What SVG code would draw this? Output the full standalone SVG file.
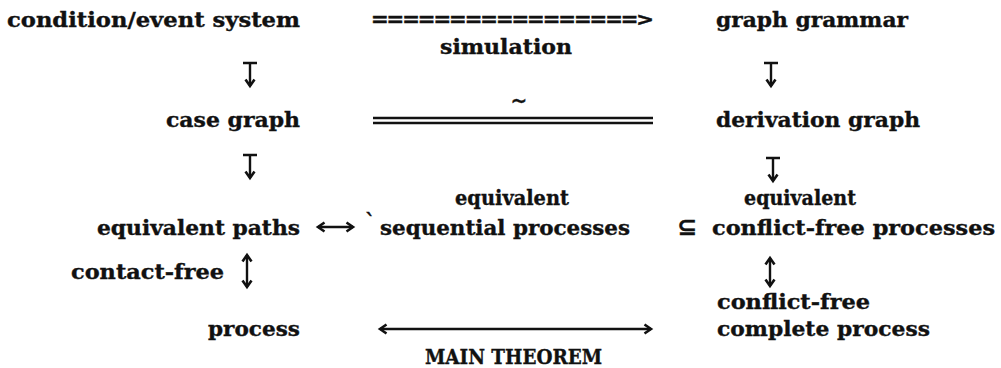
<svg xmlns="http://www.w3.org/2000/svg" width="1001" height="368" viewBox="0 0 1001 368">
<style>
text{font-family:"DejaVu Serif",serif;font-weight:bold;font-size:20px;fill:#111;stroke:#111;stroke-width:0.35}
.c{text-anchor:middle}
.ln{stroke:#111;stroke-width:2.4;fill:none}
</style>
<defs>
<marker id="ah" markerWidth="12" markerHeight="12" refX="8" refY="6" orient="auto-start-reverse" markerUnits="userSpaceOnUse">
<path d="M1.5,1.5 L8,6 L1.5,10.5" fill="none" stroke="#111" stroke-width="2.6"/>
</marker>
</defs>
<rect width="1001" height="368" fill="#fff"/>
<g id="n-ces"><text x="7" y="27" textLength="293" lengthAdjust="spacingAndGlyphs">condition/event system</text></g>
<g id="n-gg"><text x="716" y="27" textLength="192" lengthAdjust="spacingAndGlyphs">graph grammar</text></g>
<g id="n-sim"><text x="440" y="54" textLength="132" lengthAdjust="spacingAndGlyphs">simulation</text></g>
<g id="n-cg"><text x="166" y="127" textLength="134" lengthAdjust="spacingAndGlyphs">case graph</text></g>
<g id="n-dg"><text x="716" y="127" textLength="204" lengthAdjust="spacingAndGlyphs">derivation graph</text></g>
<g id="n-eq1"><text x="455" y="205" textLength="114" lengthAdjust="spacingAndGlyphs">equivalent</text><text x="380" y="235" textLength="250" lengthAdjust="spacingAndGlyphs">sequential processes</text></g>
<g id="n-ep"><text x="97" y="235" textLength="203" lengthAdjust="spacingAndGlyphs">equivalent paths</text></g>
<g id="n-ecf"><text x="744" y="205" textLength="112" lengthAdjust="spacingAndGlyphs">equivalent</text><text x="712" y="235" textLength="283" lengthAdjust="spacingAndGlyphs">conflict-free processes</text></g>
<g id="n-cf"><text x="71" y="279" textLength="153" lengthAdjust="spacingAndGlyphs">contact-free</text></g>
<g id="n-proc"><text x="208" y="336" textLength="92" lengthAdjust="spacingAndGlyphs">process</text></g>
<g id="n-cfcp"><text x="717" y="309" textLength="153" lengthAdjust="spacingAndGlyphs">conflict-free</text><text x="717" y="336" textLength="213" lengthAdjust="spacingAndGlyphs">complete process</text></g>
<g id="n-mt"><text x="425" y="364" textLength="177" lengthAdjust="spacingAndGlyphs" style="font-size:21px">MAIN THEOREM</text></g>
<g id="connectors">
<text x="372" y="26" textLength="281" lengthAdjust="spacingAndGlyphs" style="font-family:'DejaVu Sans Mono',monospace">=================&gt;</text>
<text x="519" y="108" class="c">~</text>
<line class="ln" x1="373" y1="118" x2="653" y2="118" stroke-width="2"/>
<line class="ln" x1="373" y1="123" x2="653" y2="123" stroke-width="2"/>
<path class="ln" d="M243,63 H257 M250,63 V86" marker-end="url(#ah)"/>
<path class="ln" d="M764,63 H778 M771,63 V86" marker-end="url(#ah)"/>
<path class="ln" d="M243,155 H257 M250,155 V178" marker-end="url(#ah)"/>
<path class="ln" d="M766,158 H780 M773,158 V181" marker-end="url(#ah)"/>
<line class="ln" x1="318" y1="227" x2="353" y2="227" marker-start="url(#ah)" marker-end="url(#ah)"/>
<text x="365" y="229">`</text>
<text x="677" y="235" style="font-family:'DejaVu Sans',sans-serif;font-size:24px">⊆</text>
<line class="ln" x1="247" y1="255" x2="247" y2="287" marker-start="url(#ah)" marker-end="url(#ah)"/>
<line class="ln" x1="770" y1="258" x2="770" y2="286" marker-start="url(#ah)" marker-end="url(#ah)"/>
<line class="ln" x1="380" y1="329" x2="651" y2="329" stroke-width="2" marker-start="url(#ah)" marker-end="url(#ah)"/>
</g>
</svg>
